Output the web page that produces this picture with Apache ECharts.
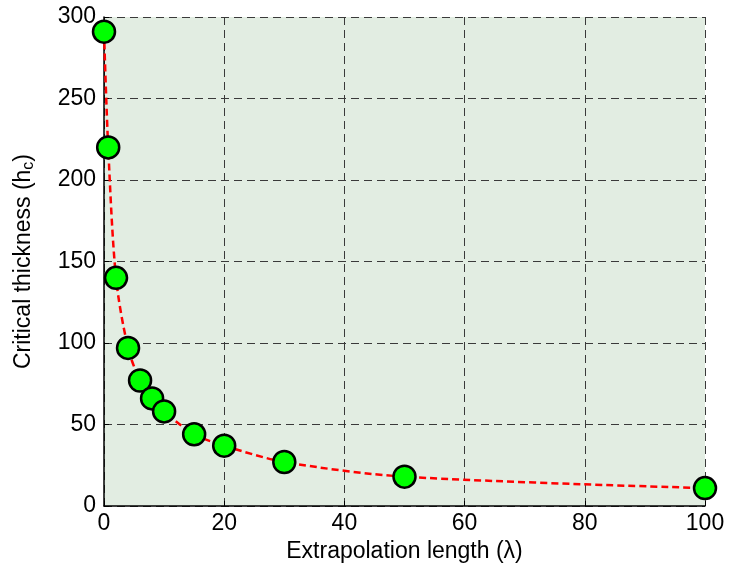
<!DOCTYPE html>
<html>
<head>
<meta charset="utf-8">
<script src="https://cdn.jsdelivr.net/npm/echarts@6/dist/echarts.min.js"></script>
<style>
  html, body { margin: 0; padding: 0; background: #fff; }
  #main { width: 729px; height: 567px; }
</style>
</head>
<body>
<div id="main"></div>
<script>
// data
var lambdaValues = [0, 0.7, 2, 4, 6, 8, 10, 15, 20, 30, 50, 100]
var thicknessValues = [291, 220, 140, 97, 77, 66, 58, 44, 37, 27, 18, 11]
var xTicks = [0, 20, 40, 60, 80, 100]
var yTicks = [0, 50, 100, 150, 200, 250, 300]

var points = lambdaValues.map((x, i) => [x, thicknessValues[i]])

var element = document.querySelector('#main')
var chart = echarts.init(element)

var font = 'Liberation Sans, Arial, sans-serif'
var gridLine = {
    show: true,
    lineStyle: { color: '#3a3a3a', type: [8, 5], width: 1 }
}

chart.setOption({
    animation: false,
    textStyle: { fontFamily: font },
    grid: {
        left: 104,
        right: 24,
        top: 17,
        bottom: 61,
        outerBoundsMode: 'none',
        containLabel: false,
        show: true,
        backgroundColor: '#e2ede2',
        borderWidth: 0
    },
    xAxis: {
        type: 'value',
        min: xTicks[0],
        max: xTicks[xTicks.length - 1],
        interval: 20,
        name: 'Extrapolation length (λ)',
        nameLocation: 'middle',
        nameGap: 34,
        nameTextStyle: { fontSize: 23, color: '#000', fontFamily: font },
        axisLine: { show: true, lineStyle: { color: '#000', width: 1.5 } },
        axisTick: { show: true, inside: true, length: 5, lineStyle: { color: '#000' } },
        axisLabel: { fontSize: 23, color: '#000', margin: 6, fontFamily: font },
        splitLine: gridLine
    },
    yAxis: {
        type: 'value',
        min: yTicks[0],
        max: yTicks[yTicks.length - 1],
        interval: 50,
        name: '{a|Critical thickness (h}{s|c}{a|)}',
        nameLocation: 'middle',
        nameGap: 67,
        nameRotate: 90,
        nameTextStyle: {
            rich: {
                a: { fontSize: 23, color: '#000', fontFamily: font },
                s: { fontSize: 16, color: '#000', fontFamily: font, verticalAlign: 'bottom', padding: [10, 0, 0, 0] }
            }
        },
        axisLine: { show: true, lineStyle: { color: '#000', width: 1.5 } },
        axisTick: { show: true, inside: true, length: 5, lineStyle: { color: '#000' } },
        axisLabel: { fontSize: 23, color: '#000', margin: 8, fontFamily: font },
        splitLine: gridLine
    },
    series: [
        {
            type: 'line',
            data: points,
            smooth: 0.3,
            symbol: 'circle',
            symbolSize: 22,
            lineStyle: { color: '#ff0000', width: 2.5, type: [7, 4] },
            itemStyle: { color: '#00ff00', borderColor: '#000', borderWidth: 2.5 },
            clip: false,
            z: 5
        }
    ]
})
</script>
</body>
</html>
